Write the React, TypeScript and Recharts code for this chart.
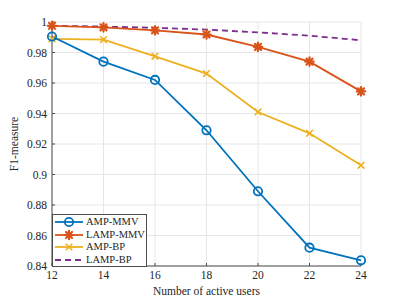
import { LineChart, Line, XAxis, YAxis, CartesianGrid } from "recharts";

const users = [12, 14, 16, 18, 20, 22, 24];
const ampMmv = [0.9905, 0.974, 0.962, 0.929, 0.889, 0.852, 0.8437];
const lampMmv = [0.9975, 0.9965, 0.9945, 0.9918, 0.9837, 0.974, 0.9545];
const ampBp = [0.989, 0.9885, 0.9775, 0.9662, 0.941, 0.927, 0.906];
const lampBp = [0.9975, 0.997, 0.9962, 0.995, 0.9932, 0.991, 0.988];

const xTicks = [12, 14, 16, 18, 20, 22, 24];
const yTicks = [0.84, 0.86, 0.88, 0.9, 0.92, 0.94, 0.96, 0.98, 1];

const BLUE = "#0072BD";
const ORANGE = "#D95319";
const YELLOW = "#EDB120";
const PURPLE = "#7E2F8E";
const FONT = "'Liberation Serif', 'Times New Roman', Times, serif";
const AXIS = "#4d4d4d";
const INK = "#262626";

const data = users.map((u, i) => ({
  users: u,
  ampMmv: ampMmv[i],
  lampMmv: lampMmv[i],
  ampBp: ampBp[i],
  lampBp: lampBp[i],
}));

type Marker = "circle" | "star" | "cross" | "none";

function MarkerShape({ kind, cx, cy, color }: { kind: Marker; cx: number; cy: number; color: string }) {
  if (kind === "circle") {
    return <circle cx={cx} cy={cy} r={4.2} fill="none" stroke={color} strokeWidth={1.8} />;
  }
  if (kind === "star") {
    const r = 4.2;
    const d = r * 0.72;
    return (
      <g stroke={color} strokeWidth={2.2} strokeLinecap="round">
        <line x1={cx - r} y1={cy} x2={cx + r} y2={cy} />
        <line x1={cx} y1={cy - r} x2={cx} y2={cy + r} />
        <line x1={cx - d} y1={cy - d} x2={cx + d} y2={cy + d} />
        <line x1={cx - d} y1={cy + d} x2={cx + d} y2={cy - d} />
      </g>
    );
  }
  if (kind === "cross") {
    const r = 3.3;
    return (
      <g stroke={color} strokeWidth={1.6}>
        <line x1={cx - r} y1={cy - r} x2={cx + r} y2={cy + r} />
        <line x1={cx - r} y1={cy + r} x2={cx + r} y2={cy - r} />
      </g>
    );
  }
  return null;
}

const dotFor = (kind: Marker, color: string) => (props: any) => {
  const { cx, cy, index } = props;
  if (cx == null || cy == null) return <g key={index} />;
  return (
    <g key={index}>
      <MarkerShape kind={kind} cx={cx} cy={cy} color={color} />
    </g>
  );
};

const legendItems: { label: string; color: string; marker: Marker; dashed?: boolean }[] = [
  { label: "AMP-MMV", color: BLUE, marker: "circle" },
  { label: "LAMP-MMV", color: ORANGE, marker: "star" },
  { label: "AMP-BP", color: YELLOW, marker: "cross" },
  { label: "LAMP-BP", color: PURPLE, marker: "none", dashed: true },
];

function LegendBox() {
  return (
    <div
      style={{
        position: "absolute",
        left: 52,
        top: 214,
        width: 95,
        height: 53,
        border: `1px solid ${AXIS}`,
        background: "#fff",
        fontFamily: FONT,
        fontSize: 10.5,
        color: INK,
        boxSizing: "border-box",
        paddingTop: 1,
        whiteSpace: "nowrap",
      }}
    >
      {legendItems.map((it) => (
        <div key={it.label} style={{ display: "flex", alignItems: "center", height: 12.5, lineHeight: "12px" }}>
          <svg width={33} height={12} style={{ flex: "none" }}>
            <line
              x1={2}
              y1={6}
              x2={30}
              y2={6}
              stroke={it.color}
              strokeWidth={1.8}
              strokeDasharray={it.dashed ? "6 4" : undefined}
            />
            <MarkerShape kind={it.marker} cx={16} cy={6} color={it.color} />
          </svg>
          <span>{it.label}</span>
        </div>
      ))}
    </div>
  );
}

const fmtY = (v: number) => String(Number(v.toFixed(2)));

export default function App() {
  return (
    <div
      style={{
        position: "absolute",
        left: 0,
        top: 0,
        width: 399,
        height: 299,
        background: "#fff",
        fontFamily: FONT,
      }}
    >
      <LineChart
        width={399}
        height={299}
        data={data}
        margin={{ top: 22, right: 38, bottom: 0, left: 0 }}
        style={{ fontFamily: FONT }}
      >
        <CartesianGrid stroke="#e6e6e6" strokeWidth={1} />
        <XAxis
          dataKey="users"
          type="number"
          domain={[12, 24]}
          ticks={xTicks}
          height={33}
          stroke={AXIS}
          tickSize={-3}
          tickMargin={8}
          tick={{ fontSize: 11.5, fill: INK, fontFamily: FONT }}
          label={{
            value: "Number of active users",
            position: "insideBottom",
            offset: 4,
            fontSize: 11.5,
            fill: INK,
            fontFamily: FONT,
          }}
        />
        <XAxis
          xAxisId="top"
          orientation="top"
          dataKey="users"
          type="number"
          domain={[12, 24]}
          ticks={xTicks}
          height={0}
          stroke={AXIS}
          tickSize={-3}
          tickFormatter={() => ""}
        />
        <YAxis
          type="number"
          domain={[0.84, 1]}
          ticks={yTicks}
          width={52}
          stroke={AXIS}
          tickSize={-3}
          tickMargin={8}
          tickFormatter={fmtY}
          tick={{ fontSize: 11.5, fill: INK, fontFamily: FONT }}
          label={{
            content: (p: any) => {
              const vb = p.viewBox || { x: 0, y: 22, height: 244 };
              const cx = 14;
              const cy = vb.y + vb.height / 2;
              return (
                <text
                  x={cx}
                  y={cy}
                  transform={`rotate(-90, ${cx}, ${cy})`}
                  textAnchor="middle"
                  dominantBaseline="central"
                  fontSize={11.5}
                  fill={INK}
                  fontFamily={FONT}
                >
                  F1-measure
                </text>
              );
            },
          }}
        />
        <YAxis
          yAxisId="right"
          orientation="right"
          type="number"
          domain={[0.84, 1]}
          ticks={yTicks}
          width={0}
          stroke={AXIS}
          tickSize={-3}
          tickFormatter={() => ""}
        />
        <Line
          dataKey="lampBp"
          stroke={PURPLE}
          strokeWidth={1.8}
          strokeDasharray="6 4"
          dot={false}
          activeDot={false}
          isAnimationActive={false}
        />
        <Line
          dataKey="ampBp"
          stroke={YELLOW}
          strokeWidth={1.8}
          dot={dotFor("cross", YELLOW)}
          activeDot={false}
          isAnimationActive={false}
        />
        <Line
          dataKey="lampMmv"
          stroke={ORANGE}
          strokeWidth={1.8}
          dot={dotFor("star", ORANGE)}
          activeDot={false}
          isAnimationActive={false}
        />
        <Line
          dataKey="ampMmv"
          stroke={BLUE}
          strokeWidth={1.8}
          dot={dotFor("circle", BLUE)}
          activeDot={false}
          isAnimationActive={false}
        />
      </LineChart>
      <LegendBox />
    </div>
  );
}
